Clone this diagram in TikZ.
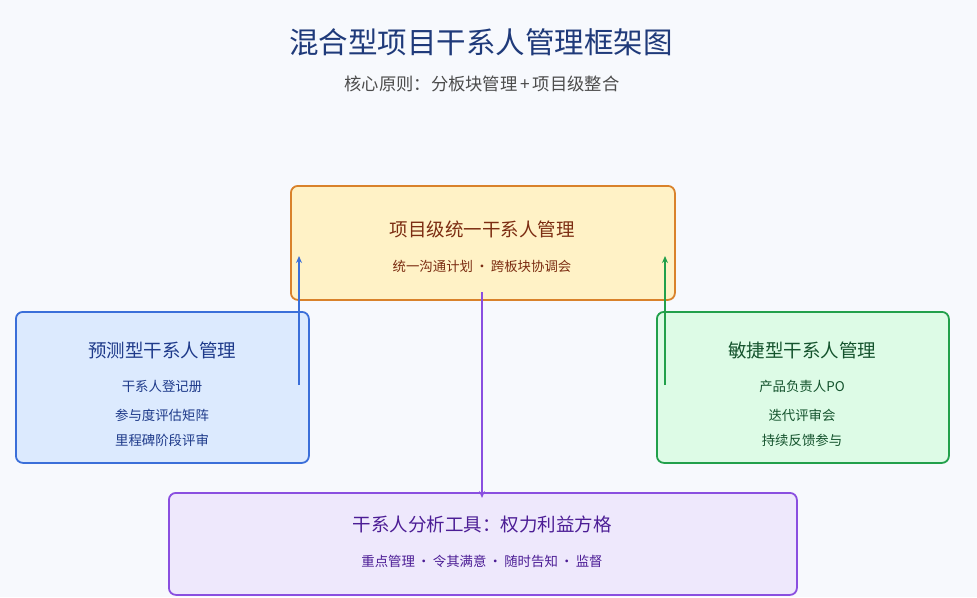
\documentclass[tikz,border=0pt]{standalone}
\usepackage{fontspec}
\setmainfont{Noto Sans CJK SC}
\usetikzlibrary{arrows.meta}
\definecolor{bg}{HTML}{F7F9FD}
\definecolor{ofill}{HTML}{FFF2C6}\definecolor{oline}{HTML}{D9822B}\definecolor{otext}{HTML}{7C2D12}
\definecolor{bfill}{HTML}{DCEAFE}\definecolor{bline}{HTML}{3B6FD9}\definecolor{btext}{HTML}{1E3A8A}
\definecolor{gfill}{HTML}{DDFBE6}\definecolor{gline}{HTML}{22A04B}\definecolor{gtext}{HTML}{14532D}
\definecolor{pfill}{HTML}{EEE8FC}\definecolor{pline}{HTML}{8A4FE0}\definecolor{ptext}{HTML}{4C1D95}
\definecolor{ttl}{HTML}{1F3A7A}
\begin{document}
\begin{tikzpicture}[x=1pt,y=-1pt,
 box/.style={draw,line width=1.8pt,rounded corners=7pt,anchor=north west,inner sep=0},
 hd/.style={font=\fontsize{18.5}{20}\selectfont},
 it/.style={font=\fontsize{13.4}{15}\selectfont},
 arr/.style={line width=1.6pt,-{Stealth[length=7pt,width=6pt]}}]
\useasboundingbox (0,0) rectangle (977,597);
\fill[bg] (0,0) rectangle (977,597);
\node[font=\fontsize{29.5}{32}\selectfont,text=ttl] (title) at (481,42) {混合型项目干系人管理框架图};
\node[font=\fontsize{17.3}{19}\selectfont,text=black!70] (sub) at (482,84) {核心原则：分板块管理\,+\,项目级整合};
\node[box,fill=ofill,draw=oline,minimum width=384pt,minimum height=114pt] (top) at (290,185) {};
\node[hd,text=otext] (toph) at (482,229) {项目级统一干系人管理};
\node[it,text=otext] (topi) at (482,266) {统一沟通计划\,·\,跨板块协调会};
\node[box,fill=bfill,draw=bline,minimum width=293pt,minimum height=151pt] (left) at (15,311) {};
\node[hd,text=btext] (lh) at (162,350) {预测型干系人管理};
\node[it,text=btext] (l1) at (162,386) {干系人登记册};
\node[it,text=btext] (l2) at (162,415) {参与度评估矩阵};
\node[it,text=btext] (l3) at (162,440) {里程碑阶段评审};
\node[box,fill=gfill,draw=gline,minimum width=292pt,minimum height=151pt] (right) at (656,311) {};
\node[hd,text=gtext] (rh) at (802,350) {敏捷型干系人管理};
\node[it,text=gtext] (r1) at (802,386) {产品负责人PO};
\node[it,text=gtext] (r2) at (802,415) {迭代评审会};
\node[it,text=gtext] (r3) at (802,440) {持续反馈参与};
\node[box,fill=pfill,draw=pline,minimum width=628pt,minimum height=102pt] (bot) at (168,492) {};
\node[hd,text=ptext] (bh) at (482,524) {干系人分析工具：权力利益方格};
\node[it,text=ptext] (bi) at (482,561) {重点管理\,·\,令其满意\,·\,随时告知\,·\,监督};
\coordinate (la) at (299,385); \coordinate (lb) at (299,256);
\coordinate (ra) at (665,385); \coordinate (rb) at (665,256);
\coordinate (pa) at (482,292); \coordinate (pb) at (482,498);
\draw[arr,bline] (la) -- (lb);
\draw[arr,gline] (ra) -- (rb);
\draw[arr,pline] (pa) -- (pb);
\end{tikzpicture}
\end{document}
